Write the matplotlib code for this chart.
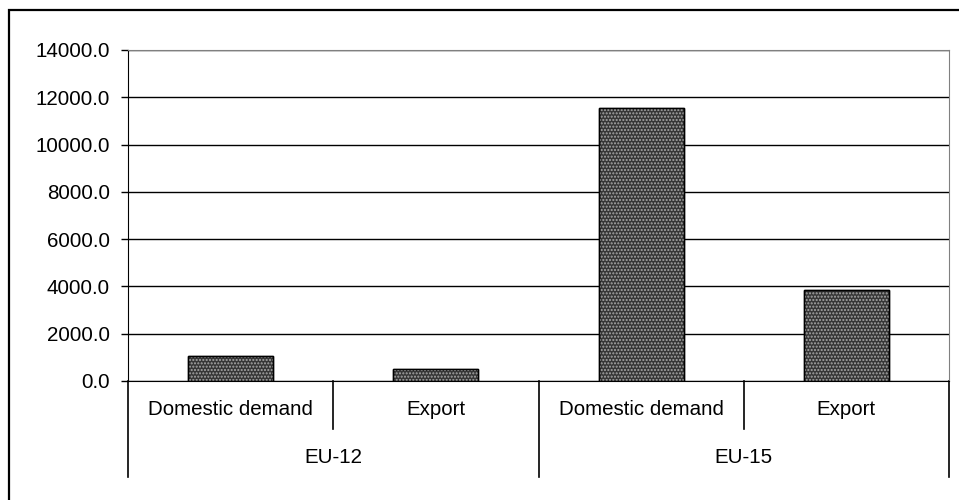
import matplotlib
matplotlib.use('Agg')
from matplotlib import pyplot as plt
from matplotlib.patches import Rectangle

groups = ['EU-12', 'EU-15']
kinds = ['Domestic demand', 'Export', 'Domestic demand', 'Export']
values = [1050, 520, 11550, 3850]
yticks = [0, 2000, 4000, 6000, 8000, 10000, 12000, 14000]

plt.rcParams['font.family'] = ['Liberation Sans', 'DejaVu Sans']

fig = plt.figure(figsize=(9.59, 5.0), dpi=100)
ax = fig.add_axes([128/959, 1 - 381/500, (949 - 128)/959, (381 - 50)/500])

x = list(range(len(values)))
# dark dotted fill, like the old Excel pattern
ax.bar(x, values, width=0.415, color='#363636', edgecolor='black', linewidth=1, zorder=2)
ax.bar(x, values, width=0.415, color='none', edgecolor='#a8a8a8', hatch='.....', linewidth=0, zorder=3)
ax.bar(x, values, width=0.415, color='none', edgecolor='black', linewidth=1, zorder=4)

ax.set_xlim(-0.5, 3.5)
ax.set_ylim(0, 14000)
ax.set_yticks(yticks)
ax.set_yticklabels(['%.1f' % v for v in yticks])
ax.tick_params(axis='y', direction='out', length=5, width=1, pad=8, labelsize=14.8, color='black')
ax.set_xticks([])

ax.set_axisbelow(True)
ax.yaxis.grid(True, color='black', linewidth=1)

ax.spines['left'].set_color('black')
ax.spines['bottom'].set_color('black')
ax.spines['bottom'].set_zorder(5)
ax.spines['top'].set_color('#808080')
ax.spines['right'].set_color('#808080')
ax.spines['top'].set_zorder(5)

trans = ax.get_xaxis_transform()
# category separators
for sx in [0.5, 2.5]:
    ax.plot([sx, sx], [0, -0.145], color='black', lw=1.2, transform=trans, clip_on=False)
for sx in [-0.5, 1.5, 3.5]:
    ax.plot([sx, sx], [0, -0.29], color='black', lw=1.2, transform=trans, clip_on=False)

for xi, k in zip(x, kinds):
    ax.text(xi, -0.0876, k, transform=trans, ha='center', va='center', fontsize=14.8)
for gi, g in enumerate(groups):
    ax.text(gi * 2 + 0.5, -0.2326, g, transform=trans, ha='center', va='center', fontsize=14.8)

# chart border
fig.patches.append(Rectangle((9/959, -0.5), 2.0, 1 - 10/500 + 0.5, transform=fig.transFigure,
                             fill=False, edgecolor='black', linewidth=1.6, zorder=0))

fig.savefig('out.png', dpi=100)
